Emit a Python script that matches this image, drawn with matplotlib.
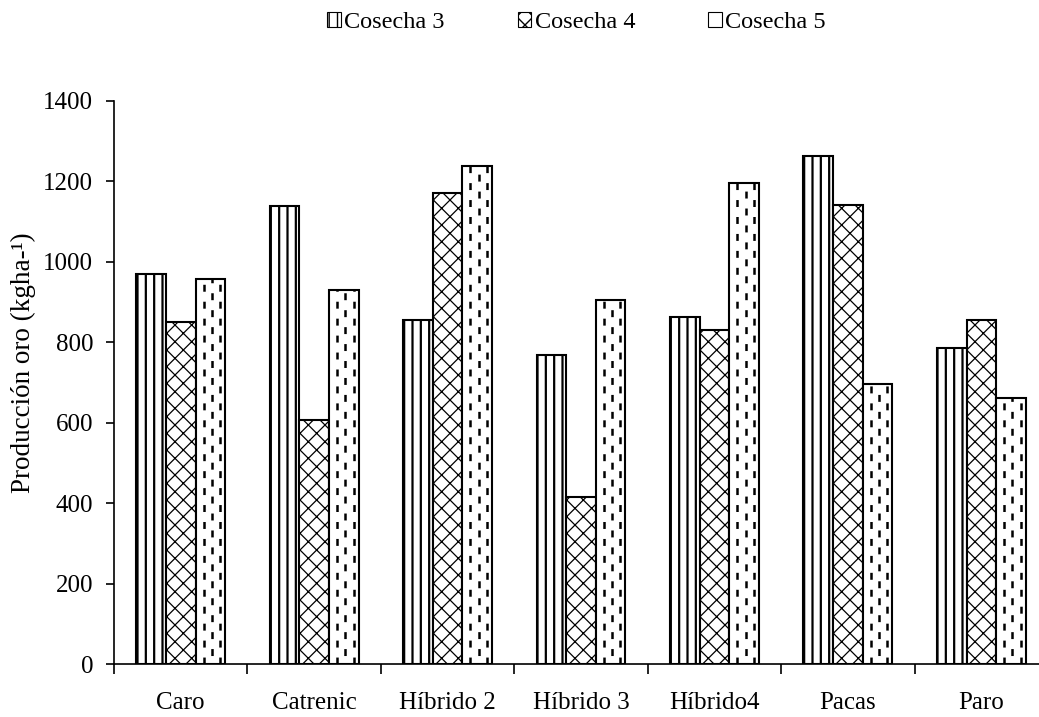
import matplotlib
matplotlib.use("Agg")
import matplotlib.pyplot as plt
import numpy as np

categories = ["Caro", "Catrenic", "Híbrido 2", "Híbrido 3", "Híbrido4", "Pacas", "Paro"]
cosecha3 = [968, 1137, 855, 768, 862, 1262, 785]
cosecha4 = [851, 607, 1170, 415, 830, 1140, 855]
cosecha5 = [958, 930, 1237, 905, 1195, 697, 660]
series_names = ["Cosecha 3", "Cosecha 4", "Cosecha 5"]
yticks = [0, 200, 400, 600, 800, 1000, 1200, 1400]

plt.rcParams['font.family'] = ['Liberation Serif', 'DejaVu Serif']
plt.rcParams['lines.scale_dashes'] = False

fig = plt.figure(figsize=(10.39, 7.17), dpi=100)
ax = fig.add_axes([0.1097, 0.0739, 0.899, 0.7857])

x = np.arange(len(categories))
w = 0.222

plt.rcParams['hatch.linewidth'] = 1.6
b3 = ax.bar(x - w, cosecha3, w, facecolor='white', edgecolor='black', linewidth=1.5, hatch='||')
plt.rcParams['hatch.linewidth'] = 0.9
b4 = ax.bar(x, cosecha4, w, facecolor='white', edgecolor='black', linewidth=1.5, hatch='xx')
plt.rcParams['hatch.linewidth'] = 1.0
b5 = ax.bar(x + w, cosecha5, w, facecolor='white', edgecolor='black', linewidth=1.5)

# dashed pattern inside Cosecha 5 bars
per = 12.2  # points
on = 5.0
for rect in b5:
    x0 = rect.get_x()
    bw = rect.get_width()
    h = rect.get_height()
    for i, f in enumerate([0.27, 0.55, 0.83]):
        off = 0 if i % 2 == 0 else per / 2
        ax.vlines(x0 + f * bw, 0, h, colors='black', linewidth=1.8,
                  linestyles=[(off, (on, per - on))])

ax.set_xlim(-0.5, len(categories) - 0.5)
ax.set_ylim(0, 1400)
ax.set_yticks(yticks)
ax.set_yticklabels([str(v) for v in yticks], fontsize=18)
ax.set_xticks(np.arange(len(categories) + 1) - 0.5)
ax.set_xticklabels([])
ax.set_xticks(x, minor=True)
ax.set_xticklabels(categories, minor=True, fontsize=18)
ax.tick_params(axis='x', which='major', length=7, width=1.2, direction='out')
ax.tick_params(axis='x', which='minor', length=0, pad=20)
ax.tick_params(axis='y', length=6, width=1.2, direction='out', pad=9)
for s in ['top', 'right']:
    ax.spines[s].set_visible(False)
for s in ['left', 'bottom']:
    ax.spines[s].set_linewidth(1.2)
ax.set_ylabel("Producción oro (kgha-¹)", fontsize=19.5, labelpad=12)
ax.yaxis.set_label_coords(-0.083, 0.535)

leg = fig.legend([b3, b4, b5], series_names, loc='center', bbox_to_anchor=(0.555, 0.969),
                 ncol=3, frameon=False, fontsize=17.5, handlelength=0.55, handleheight=0.6,
                 handletextpad=0.15, columnspacing=3.0)
for p in leg.get_patches():
    p.set_linewidth(0.8)

fig.savefig("out.png", dpi=100)
